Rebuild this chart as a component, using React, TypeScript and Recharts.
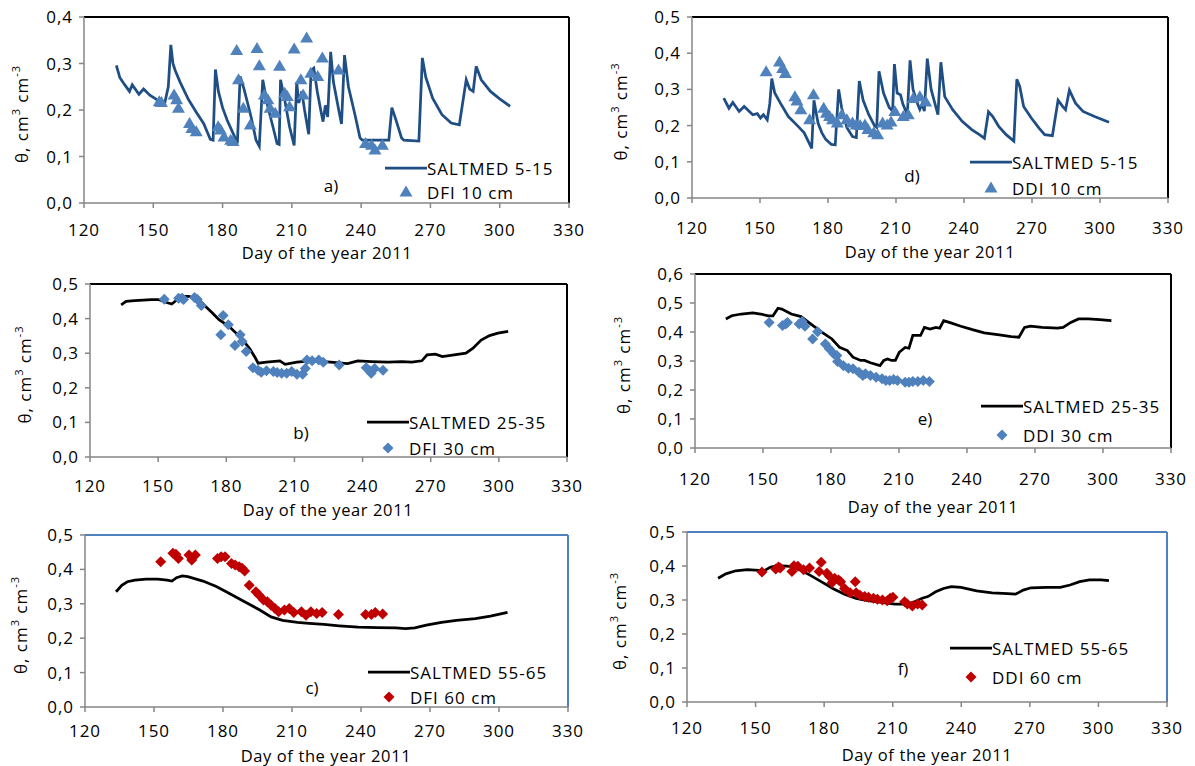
import React from 'react';
import { ComposedChart, Line, Scatter, XAxis, YAxis, ReferenceLine, Legend } from 'recharts';

const FONT = '"Open Sans", sans-serif';
const GRAY = '#868686';
const NAVY = '#1F4E85';
const STEEL = '#4F81BD';
const RED = '#C00000';

const xTicks = [120, 150, 180, 210, 240, 270, 300, 330];
const yTicks5 = [0, 0.1, 0.2, 0.3, 0.4, 0.5];
const yTicks4 = [0, 0.1, 0.2, 0.3, 0.4];
const yTicks6 = [0, 0.1, 0.2, 0.3, 0.4, 0.5, 0.6];

// a) SALTMED 5-15 vs DFI 10 cm  [day, theta]
const simA = [
  [134, 0.296], [135.5, 0.27], [137.5, 0.255], [139.7, 0.24], [140.9, 0.254], [143.8, 0.234],
  [145.8, 0.245], [148.5, 0.232], [150.7, 0.225], [152.8, 0.218], [155, 0.216], [156.5, 0.25],
  [157.6, 0.34], [158.5, 0.3], [159.5, 0.285], [161.6, 0.26], [165.3, 0.222], [168.9, 0.193],
  [171.8, 0.171], [174.7, 0.137], [175.9, 0.135], [176.9, 0.287], [178.2, 0.24], [180, 0.205],
  [182, 0.178], [185, 0.145], [186.4, 0.128], [187.6, 0.272], [189.3, 0.245], [192.3, 0.186],
  [194.5, 0.135], [195.9, 0.122], [197.4, 0.265], [199.6, 0.207], [201.8, 0.164], [203.6, 0.128],
  [204.5, 0.126], [205.1, 0.265], [206.9, 0.222], [209, 0.164], [211, 0.124], [212.1, 0.26],
  [213, 0.215], [214.3, 0.24], [215.5, 0.2], [217.3, 0.148], [218.3, 0.285], [219.5, 0.29],
  [221, 0.24], [222.5, 0.2], [223.5, 0.175], [224.5, 0.21], [225.5, 0.185], [226.8, 0.325],
  [228, 0.26], [230.3, 0.2], [231.5, 0.17], [232.8, 0.318], [234.5, 0.25], [237.5, 0.186],
  [239.5, 0.14], [240.5, 0.135], [252, 0.135], [253.3, 0.205], [255, 0.18], [257.5, 0.14],
  [258.5, 0.135], [265, 0.133], [266.5, 0.312], [268, 0.27], [271, 0.225], [275, 0.19],
  [279, 0.172], [282.5, 0.168], [285.5, 0.265], [287, 0.245], [288.5, 0.24], [289.8, 0.294],
  [292, 0.265], [296, 0.24], [300, 0.224], [304.5, 0.208],
];
const obsA = [
  [152.6, 0.218], [153.5, 0.216], [159, 0.232], [160.1, 0.222], [160.9, 0.204], [165.7, 0.171],
  [166.7, 0.16], [168.6, 0.153], [178.1, 0.164], [179.1, 0.157], [180.6, 0.142], [183.5, 0.135],
  [184.5, 0.132], [186.1, 0.328], [186.9, 0.265], [189, 0.204], [192, 0.168], [194.9, 0.332],
  [195.9, 0.295], [198.1, 0.232], [199.6, 0.222], [200.6, 0.204], [202.8, 0.193], [204.7, 0.294],
  [206.9, 0.236], [208, 0.229], [209, 0.207], [211, 0.331], [213.9, 0.265], [214.9, 0.232],
  [216.4, 0.355], [218.2, 0.279], [221.2, 0.272], [223.2, 0.312], [230.2, 0.286], [241.9, 0.128],
  [244.5, 0.124], [246, 0.114], [249.2, 0.124],
];

// b) SALTMED 25-35 vs DFI 30 cm
const simB = [
  [133.7, 0.44], [135.9, 0.45], [139.6, 0.452], [147.1, 0.455], [150.1, 0.455], [153, 0.448],
  [156, 0.442], [157.5, 0.45], [159.7, 0.464], [163.5, 0.464], [167.9, 0.455], [170.9, 0.435],
  [173.9, 0.416], [176.8, 0.397], [181.3, 0.377], [184.3, 0.358], [187.3, 0.338], [190.2, 0.314],
  [192.5, 0.29], [194, 0.271], [197.7, 0.274], [203.6, 0.278], [205.9, 0.268], [211.1, 0.274],
  [217, 0.278], [226, 0.274], [233.4, 0.27], [237.9, 0.278], [243.8, 0.276], [251.2, 0.274],
  [257.2, 0.276], [261.7, 0.274], [266.1, 0.278], [268.4, 0.295], [272.1, 0.297], [275.1, 0.29],
  [280.3, 0.295], [285.5, 0.3], [288.5, 0.314], [292.2, 0.338], [295.9, 0.351], [299.6, 0.358],
  [304.1, 0.363],
];
const obsB = [
  [152.7, 0.456], [159, 0.459], [160.5, 0.459], [161.2, 0.455], [166, 0.461], [167.2, 0.456],
  [169, 0.438], [177.6, 0.353], [178.6, 0.409], [180.9, 0.382], [183.8, 0.322], [186.1, 0.353],
  [187, 0.334], [188.8, 0.305], [191.7, 0.258], [194, 0.251], [195.4, 0.245], [197.7, 0.249],
  [200.7, 0.247], [202.4, 0.244], [204.4, 0.242], [206.6, 0.242], [208.8, 0.247], [211.1, 0.239],
  [213.6, 0.239], [214.8, 0.256], [215.5, 0.28], [217.8, 0.278], [220.7, 0.28], [222.7, 0.274],
  [229.7, 0.266], [241.6, 0.258], [243.1, 0.249], [243.8, 0.242], [245.3, 0.256], [249, 0.251],
];

// c) SALTMED 55-65 vs DFI 60 cm
const simC = [
  [133.5, 0.335], [136, 0.354], [138.4, 0.364], [141.7, 0.369], [146.6, 0.372], [151.6, 0.372],
  [155.7, 0.369], [157.8, 0.366], [159.8, 0.376], [162.3, 0.381], [164.7, 0.379], [171.3, 0.366],
  [177.1, 0.35], [182.8, 0.33], [189.4, 0.306], [196, 0.282], [200.9, 0.262], [205.9, 0.252],
  [212.4, 0.246], [217.4, 0.243], [223.9, 0.24], [230.5, 0.236], [238.8, 0.232], [247, 0.231],
  [255.2, 0.23], [259.3, 0.228], [263.4, 0.23], [268.4, 0.238], [275, 0.246], [281.5, 0.252],
  [289.7, 0.257], [296.3, 0.264], [303.7, 0.275],
];
const obsC = [
  [152.9, 0.422], [158.2, 0.447], [159.5, 0.444], [160.6, 0.432], [165.2, 0.442], [166.4, 0.427],
  [168, 0.442], [177.6, 0.432], [179.2, 0.437], [180.9, 0.437], [183.7, 0.417], [185.3, 0.413],
  [187, 0.408], [188.3, 0.403], [189.4, 0.395], [191.4, 0.354], [194.3, 0.335], [195.7, 0.325],
  [197.6, 0.311], [199.3, 0.306], [200.9, 0.296], [202.6, 0.286], [204.2, 0.277], [206.7, 0.282],
  [208.8, 0.286], [210.8, 0.275], [214.1, 0.277], [216.1, 0.267], [218.2, 0.277], [220.7, 0.272],
  [223.1, 0.275], [230.2, 0.269], [242, 0.269], [244.5, 0.269], [246.2, 0.275], [249.4, 0.27],
];

// d) SALTMED 5-15 vs DDI 10 cm
const simD = [
  [134, 0.276], [136.3, 0.248], [138, 0.264], [140.8, 0.239], [143, 0.253], [146.8, 0.23],
  [148.8, 0.233], [150.2, 0.221], [151.5, 0.23], [153.2, 0.216], [154.3, 0.26], [155.2, 0.33],
  [156.5, 0.29], [159, 0.262], [162.5, 0.225], [166.5, 0.2], [169.5, 0.18], [171.8, 0.15],
  [172.8, 0.137], [173.8, 0.27], [175.6, 0.207], [177.3, 0.18], [179, 0.162], [181.5, 0.148],
  [183.2, 0.147], [184.7, 0.3], [186, 0.25], [188.3, 0.195], [190.8, 0.17], [192.5, 0.167],
  [193.8, 0.323], [195.5, 0.27], [198, 0.23], [200.5, 0.2], [201.5, 0.195], [202.5, 0.35],
  [204.5, 0.29], [207, 0.25], [208.5, 0.24], [209.3, 0.37], [210.5, 0.29], [212, 0.285],
  [213, 0.26], [215, 0.23], [216.2, 0.38], [217.5, 0.3], [219.5, 0.26], [220.5, 0.245],
  [221.5, 0.26], [222.5, 0.24], [223.8, 0.385], [225.5, 0.3], [228.5, 0.23], [229.8, 0.375],
  [231.5, 0.28], [235, 0.244], [239.2, 0.212], [243.4, 0.189], [246.8, 0.175], [249, 0.165],
  [250.8, 0.238], [252.7, 0.225], [255.3, 0.198], [258.6, 0.175], [262, 0.157], [263.3, 0.328],
  [264.6, 0.308], [266.3, 0.253], [269.7, 0.221], [273.1, 0.193], [275.6, 0.175], [279, 0.172],
  [281.5, 0.27], [283.5, 0.253], [284.8, 0.244], [286.5, 0.298], [289.2, 0.262], [292.5, 0.239],
  [297.6, 0.225], [304, 0.209],
];
const obsD = [
  [152.7, 0.349], [158.6, 0.376], [160, 0.358], [161.2, 0.344], [165.4, 0.28], [166.3, 0.268],
  [168, 0.244], [171.9, 0.216], [173.6, 0.285], [178.1, 0.248], [179.3, 0.234], [180.7, 0.225],
  [182, 0.216], [184.1, 0.207], [186.1, 0.23], [188.3, 0.216], [190.8, 0.207], [192.5, 0.202],
  [194.2, 0.2], [196.3, 0.202], [197.6, 0.189], [200.2, 0.18], [201.9, 0.175], [204.1, 0.207],
  [206.1, 0.202], [207.8, 0.21], [209.5, 0.239], [213.2, 0.225], [215.4, 0.23], [217.6, 0.275],
  [220.5, 0.28], [223.1, 0.265],
];

// e) SALTMED 25-35 vs DDI 30 cm
const simE = [
  [133.6, 0.445], [136.2, 0.456], [140.4, 0.462], [145.5, 0.466], [149, 0.462], [152.3, 0.456],
  [154.4, 0.456], [156.6, 0.482], [158.3, 0.479], [162.5, 0.462], [166.8, 0.453], [171, 0.428],
  [176.1, 0.399], [180.4, 0.376], [183.8, 0.347], [187.2, 0.336], [189.7, 0.313], [193.1, 0.302],
  [194.8, 0.302], [197.4, 0.294], [201.6, 0.284], [203.3, 0.302], [205, 0.307], [206.7, 0.302],
  [208.4, 0.302], [210.1, 0.33], [212.7, 0.347], [214.4, 0.344], [216.1, 0.388], [219.5, 0.388],
  [221.2, 0.416], [223.7, 0.41], [226.3, 0.416], [228, 0.413], [229.7, 0.439], [232.2, 0.433],
  [237.3, 0.42], [242.4, 0.408], [247.6, 0.397], [254.3, 0.39], [259.5, 0.384], [262.9, 0.382],
  [265.4, 0.416], [268, 0.42], [273.1, 0.416], [279.9, 0.413], [282.4, 0.416], [285.8, 0.433],
  [289.2, 0.445], [293.5, 0.445], [298.6, 0.443], [303.7, 0.439],
];
const obsE = [
  [152.7, 0.433], [158.6, 0.422], [160, 0.428], [160.8, 0.433], [165.9, 0.428], [167.3, 0.436],
  [168.5, 0.42], [171.9, 0.376], [174.1, 0.401], [177.5, 0.359], [179.2, 0.342], [181.2, 0.325],
  [182.6, 0.319], [182.9, 0.298], [185.5, 0.284], [187.7, 0.275], [189.7, 0.273], [192.3, 0.261],
  [194, 0.25], [195.2, 0.256], [197.4, 0.25], [199.9, 0.244], [202.5, 0.239], [204.2, 0.233],
  [205.9, 0.233], [207.6, 0.236], [209.3, 0.233], [212.7, 0.227], [214.4, 0.227], [216.1, 0.229],
  [218.3, 0.229], [220.7, 0.233], [223.4, 0.229],
];

// f) SALTMED 55-65 vs DDI 60 cm
const simF = [
  [133.6, 0.364], [137, 0.377], [141.3, 0.386], [146.4, 0.389], [151.5, 0.387], [154, 0.387],
  [156.6, 0.397], [160, 0.401], [165.1, 0.399], [169.3, 0.389], [173.6, 0.374], [178.7, 0.354],
  [183.8, 0.334], [188.9, 0.317], [194, 0.305], [199.1, 0.298], [205.9, 0.292], [211, 0.288],
  [215.2, 0.288], [218.6, 0.292], [222.9, 0.305], [225.4, 0.31], [228.8, 0.324], [232.2, 0.334],
  [235.6, 0.339], [239.9, 0.337], [246.7, 0.327], [253.5, 0.321], [260.3, 0.319], [263.7, 0.317],
  [267.1, 0.329], [270.5, 0.336], [277.3, 0.337], [283.3, 0.337], [287.6, 0.344], [291.8, 0.354],
  [296.1, 0.359], [301.2, 0.359], [304.6, 0.357],
];
const obsF = [
  [152.8, 0.382], [158.8, 0.391], [160, 0.397], [160.8, 0.394], [165.9, 0.384], [166.8, 0.401],
  [168.5, 0.399], [171, 0.389], [173.6, 0.394], [177.8, 0.384], [178.7, 0.411], [181.2, 0.379],
  [182.4, 0.369], [183.4, 0.351], [184.6, 0.364], [186.3, 0.359], [187.2, 0.354], [188.9, 0.334],
  [191.4, 0.321], [193.6, 0.354], [194, 0.321], [195.7, 0.314], [197.7, 0.31], [199.4, 0.308],
  [201.6, 0.305], [203.3, 0.302], [205.5, 0.3], [207.6, 0.298], [208.9, 0.305], [210.1, 0.308],
  [215.2, 0.295], [216.4, 0.288], [218.6, 0.282], [220.9, 0.288], [222.9, 0.285],
];

const toRows = (arr: number[][]) => arr.map(([day, v]) => ({ day, v }));
const fmt = (v: number) => v.toFixed(1).replace('.', ',');

const Triangle = (props: any) => {
  const { cx, cy, fill } = props;
  return <path d={`M${cx},${cy - 6.5} L${cx + 6.5},${cy + 4.5} L${cx - 6.5},${cy + 4.5} Z`} fill={fill} />;
};
const Diamond = (props: any) => {
  const { cx, cy, fill } = props;
  const r = 5.5;
  return <path d={`M${cx},${cy - r} L${cx + r},${cy} L${cx},${cy + r} L${cx - r},${cy} Z`} fill={fill} />;
};

const tickStyle = { fill: '#000', fontSize: 17, fontFamily: FONT, letterSpacing: 1 };

type PanelProps = {
  l: number; t: number; r: number; b: number;
  yMax: number; yTicks: number[];
  sim: number[][]; obs: number[][];
  simName: string; obsName: string;
  lineColor: string; markColor: string; marker: 'tri' | 'dia';
  frame: string; xm: number;
  legX: number; legY1: number; legY2: number;
};

function LegendBox({ p }: { p: PanelProps }) {
  const row = (y: number, kind: 'line' | 'mark', text: string) => (
    <div style={{ position: 'absolute', left: 0, top: y - 12, height: 24, display: 'flex', alignItems: 'center', whiteSpace: 'nowrap' }}>
      <svg width={42} height={24}>
        {kind === 'line'
          ? <line x1={0} x2={42} y1={12} y2={12} stroke={p.lineColor} strokeWidth={2.75} />
          : p.marker === 'tri'
            ? <Triangle cx={21} cy={12} fill={p.markColor} />
            : <Diamond cx={21} cy={12} fill={p.markColor} />}
      </svg>
      <span style={{ fontFamily: FONT, fontSize: 17, letterSpacing: 1, color: '#000' }}>{text}</span>
    </div>
  );
  return (
    <div style={{ position: 'relative', width: 200, height: 60 }}>
      {row(12, 'line', p.simName)}
      {row(12 + p.legY2 - p.legY1, 'mark', p.obsName)}
    </div>
  );
}

function Panel(p: PanelProps) {
  const padL = 70, padT = 20, padR = 15, padB = 50;
  const W = p.r - p.l + padL + padR;
  const H = p.b - p.t + padT + padB;
  const left = p.l - padL, top = p.t - padT;
  const Shape = p.marker === 'tri' ? Triangle : Diamond;
  return (
    <div style={{ position: 'absolute', left, top }}>
      <ComposedChart width={W} height={H} margin={{ top: padT, right: padR, left: 0, bottom: 0 }}>
        <XAxis type="number" dataKey="day" domain={[120, 330]} ticks={xTicks} interval={0} allowDataOverflow
          height={padB} axisLine={{ stroke: GRAY, strokeWidth: 1.5 }} tickLine={{ stroke: GRAY, strokeWidth: 1.5 }}
          tickSize={5} tickMargin={p.xm} tick={tickStyle} />
        <YAxis type="number" dataKey="v" domain={[0, p.yMax]} ticks={p.yTicks} interval={0} allowDataOverflow
          width={padL} axisLine={{ stroke: GRAY, strokeWidth: 1.5 }} tickLine={{ stroke: GRAY, strokeWidth: 1.5 }}
          tickSize={5} tickMargin={6} tick={tickStyle} tickFormatter={fmt} />
        <ReferenceLine y={p.yMax} stroke={p.frame} strokeWidth={2} />
        <ReferenceLine x={330} stroke={p.frame} strokeWidth={2} />
        <Line data={toRows(p.sim)} dataKey="v" type="linear" stroke={p.lineColor} strokeWidth={2.75}
          dot={false} activeDot={false} isAnimationActive={false} legendType="line" name={p.simName} />
        <Scatter data={toRows(p.obs)} dataKey="v" fill={p.markColor} shape={<Shape />}
          isAnimationActive={false} name={p.obsName} />
        <Legend layout="horizontal" verticalAlign="middle" align="center"
          wrapperStyle={{ left: p.legX - 42 - left, top: p.legY1 - 12 - top, width: 200, height: 60 }}
          content={() => <LegendBox p={p} />} />
      </ComposedChart>
    </div>
  );
}

const panels: PanelProps[] = [
  { l: 84, t: 17, r: 569, b: 203, yMax: 0.4, yTicks: yTicks4, sim: simA, obs: obsA,
    simName: 'SALTMED 5-15', obsName: 'DFI 10 cm', lineColor: NAVY, markColor: STEEL, marker: 'tri',
    frame: '#000', xm: 16, legX: 427, legY1: 168, legY2: 192 },
  { l: 692, t: 17, r: 1168, b: 198, yMax: 0.5, yTicks: yTicks5, sim: simD, obs: obsD,
    simName: 'SALTMED 5-15', obsName: 'DDI 10 cm', lineColor: NAVY, markColor: STEEL, marker: 'tri',
    frame: '#000', xm: 19, legX: 1012, legY1: 162, legY2: 188 },
  { l: 90, t: 284, r: 567, b: 457, yMax: 0.5, yTicks: yTicks5, sim: simB, obs: obsB,
    simName: 'SALTMED 25-35', obsName: 'DFI 30 cm', lineColor: '#000', markColor: STEEL, marker: 'dia',
    frame: '#000', xm: 18, legX: 409, legY1: 422, legY2: 448 },
  { l: 695, t: 274, r: 1171, b: 448, yMax: 0.6, yTicks: yTicks6, sim: simE, obs: obsE,
    simName: 'SALTMED 25-35', obsName: 'DDI 30 cm', lineColor: '#000', markColor: STEEL, marker: 'dia',
    frame: '#000', xm: 20, legX: 1023, legY1: 406, legY2: 435 },
  { l: 85, t: 535, r: 568, b: 707, yMax: 0.5, yTicks: yTicks5, sim: simC, obs: obsC,
    simName: 'SALTMED 55-65', obsName: 'DFI 60 cm', lineColor: '#000', markColor: RED, marker: 'dia',
    frame: STEEL, xm: 13, legX: 410, legY1: 672, legY2: 697 },
  { l: 687, t: 532, r: 1167, b: 702, yMax: 0.5, yTicks: yTicks5, sim: simF, obs: obsF,
    simName: 'SALTMED 55-65', obsName: 'DDI 60 cm', lineColor: '#000', markColor: RED, marker: 'dia',
    frame: STEEL, xm: 15, legX: 992, legY1: 648, legY2: 677 },
];

// axis titles and panel letters: [titleX, titleY, yTitleX, letter, letterX, letterY]
const labels: [number, number, number, string, number, number][] = [
  [327, 252, 21, 'a)', 331, 185],
  [930, 251, 620, 'd)', 912, 175],
  [328, 509, 24, 'b)', 301, 432],
  [933, 506, 623, 'e)', 925, 418],
  [326, 755, 20, 'c)', 312, 687],
  [927, 754, 619, 'f)', 903, 668],
];

export default function App() {
  return (
    <div style={{ position: 'absolute', left: 0, top: 0, width: 1195, height: 766, background: '#fff', overflow: 'hidden' }}>
      {panels.map((p, i) => <Panel key={i} {...p} />)}
      <svg width={1195} height={766} style={{ position: 'absolute', left: 0, top: 0, pointerEvents: 'none' }}
        fontFamily={FONT} fontSize={17} fill="#000">
        {labels.map(([tx, ty, yx, letter, lx, ly], i) => {
          const p = panels[i];
          const yc = (p.t + p.b) / 2 + 4;
          return (
            <g key={i}>
              <text x={tx} y={ty} textAnchor="middle" dominantBaseline="central" letterSpacing={0.6} fontSize={16.5}>Day of the year 2011</text>
              <text transform={`translate(${yx},${yc}) rotate(-90)`} textAnchor="middle" dominantBaseline="central" letterSpacing={1}>
                θ, cm<tspan dy={-6} fontSize={11}>3</tspan><tspan dy={6}> cm</tspan><tspan dy={-6} fontSize={11}>-3</tspan>
              </text>
              <text x={lx} y={ly} textAnchor="middle" dominantBaseline="central">{letter}</text>
            </g>
          );
        })}
      </svg>
    </div>
  );
}
